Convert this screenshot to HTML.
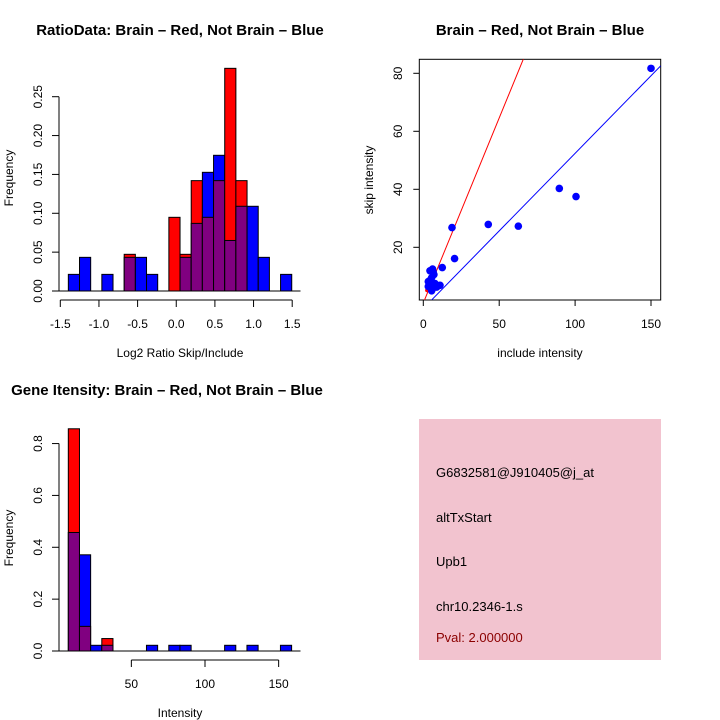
<!DOCTYPE html>
<html><head><meta charset="utf-8"><style>
body{margin:0;background:#fff;}
svg{display:block;font-family:"Liberation Sans",sans-serif;}
</style></head><body>
<svg id="c" width="720" height="720" viewBox="0 0 720 720">
<g id="p1"></g>
<g id="p2"></g>
<g id="p3"></g>
<g id="p4">
<rect x="419" y="419" width="242" height="241" fill="#f2c3cf"/>
<text x="436" y="477" font-size="13">G6832581@J910405@j_at</text>
<text x="436" y="522" font-size="13">altTxStart</text>
<text x="436" y="566" font-size="13">Upb1</text>
<text x="436" y="611" font-size="13">chr10.2346-1.s</text>
<text x="436" y="642" font-size="13" fill="#8b0000">Pval: 2.000000</text>
</g>
</svg>
<script>
// Histogram 1 data (Log2 ratio)
const h1BinStart = -1.396;
const h1BinWidth = 0.1445;
const h1Blue = [0.0214,0.0433,0,0.0214,0,0.0433,0.0433,0.0214,0,0,0.0433,0.087,0.1527,0.1746,0.065,0.109,0.109,0.0433,0,0.0214];
const h1Red  = [0,0,0,0,0,0.0472,0,0,0,0.0948,0.0472,0.142,0.0948,0.142,0.2865,0.142,0,0,0,0];
const h1XTicks = [-1.5,-1.0,-0.5,0.0,0.5,1.0,1.5];
const h1XTickLabels = ["-1.5","-1.0","-0.5","0.0","0.5","1.0","1.5"];
const h1YTicks = [0,0.05,0.10,0.15,0.20,0.25];
const h1YTickLabels = ["0.00","0.05","0.10","0.15","0.20","0.25"];
// Scatter data
const scX = [150,89.6,100.6,42.8,62.6,18.9,20.6,12.5,11,4.4,6.1,3.3,4.4,5.5,7.7,7,8.8,3.3,4.8,5.5,6.5];
const scY = [81.7,40.3,37.5,27.9,27.3,26.8,16.1,13,6.9,11.9,12.5,8.2,6.7,5,7.5,10.6,6.3,6.5,8.8,9.5,11.5];
const scRedX = [2.5,4,5.5,7];
const scRedY = [5.2,5.5,5.2,5.4];
const redLine = [0.8,1.276];   // intercept, slope
const blueLine = [-1.1,0.535];
const scXTicks = [0,50,100,150];
const scYTicks = [20,40,60,80];
// Histogram 2 data (intensity)
const h2BinStart = 7.2;
const h2BinWidth = 7.58;
const h2Blue = [0.457,0.371,0.022,0.022,0,0,0,0.022,0,0.022,0.022,0,0,0,0.022,0,0.022,0,0,0.022];
const h2Red  = [0.857,0.095,0,0.048,0,0,0,0,0,0,0,0,0,0,0,0,0,0,0,0];
const h2XTicks = [50,100,150];
const h2YTicks = [0,0.2,0.4,0.6,0.8];
const h2YTickLabels = ["0.0","0.2","0.4","0.6","0.8"];

const NS="http://www.w3.org/2000/svg";
function mk(parent,tag,attrs,txt){const e=document.createElementNS(NS,tag);for(const k in attrs)e.setAttribute(k,attrs[k]);if(txt!==undefined)e.textContent=txt;parent.appendChild(e);return e;}

function drawHist(g,o){
  const sx=v=>o.x0px+(v-o.x0v)*o.kx, sy=v=>o.y0px-v*o.ky;
  for(let i=0;i<o.blue.length;i++){
    const b=o.blue[i], r=o.red[i];
    const xa=sx(o.binStart+i*o.binWidth), xb=sx(o.binStart+(i+1)*o.binWidth);
    const hi=Math.max(b,r), lo=Math.min(b,r);
    if(hi>0){
      const e=mk(g,'rect',{x:xa,y:sy(hi),width:xb-xa,height:sy(0)-sy(hi),fill:b>=r?'#0000ff':'#ff0000',stroke:'#000','stroke-width':1});
      
      
    }
    if(lo>0){
      const e=mk(g,'rect',{x:xa,y:sy(lo),width:xb-xa,height:sy(0)-sy(lo),fill:'#800080',stroke:'#000','stroke-width':1});
      
      
    }
  }
  const base=mk(g,'line',{x1:59,x2:300.5,y1:o.y0px,y2:o.y0px,stroke:'#000'});
  
  
  const ya=mk(g,'line',{x1:59,x2:59,y1:sy(o.yTicks[0]),y2:sy(o.yTicks[o.yTicks.length-1]),stroke:'#000'});
  
  
  o.yTicks.forEach((v,i)=>{
    mk(g,'line',{x1:52,x2:59,y1:sy(v),y2:sy(v),stroke:'#000'});
    const t=mk(g,'text',{x:42,y:sy(v),'font-size':12,'text-anchor':'middle',transform:`rotate(-90 42 ${sy(v)})`},o.yLabels[i]);
    
    
  });
  const ay=o.y0px+9;
  const xa=mk(g,'line',{x1:sx(o.xTicks[0]),x2:sx(o.xTicks[o.xTicks.length-1]),y1:ay,y2:ay,stroke:'#000'});
  
  
  o.xTicks.forEach((v,i)=>{
    mk(g,'line',{x1:sx(v),x2:sx(v),y1:ay,y2:ay+7,stroke:'#000'});
    const t=mk(g,'text',{x:sx(v),y:ay+28,'font-size':12,'text-anchor':'middle'},o.xLabels[i]);
    
    
  });
  const ti=mk(g,'text',{x:o.titleX,y:o.titleY,'font-size':15,'font-weight':'bold','text-anchor':'middle'},o.title);
  
  
  const xl=mk(g,'text',{x:o.xlabX,y:o.xlabY,'font-size':12,'text-anchor':'middle'},o.xlab);
  
  
  const yc=o.y0px-113;
  const yl=mk(g,'text',{x:13,y:yc,'font-size':12,'text-anchor':'middle',transform:`rotate(-90 13 ${yc})`},'Frequency');
  
  
}

drawHist(document.getElementById('p1'),{x0px:60.3,x0v:-1.5,kx:77.3,y0px:291,ky:777.2,
  binStart:h1BinStart,binWidth:h1BinWidth,blue:h1Blue,red:h1Red,
  xTicks:h1XTicks,xLabels:h1XTickLabels,yTicks:h1YTicks,yLabels:h1YTickLabels,
  title:'RatioData: Brain \u2013 Red, Not Brain \u2013 Blue',titleX:180,titleY:35,
  xlab:'Log2 Ratio Skip/Include',xlabX:180,xlabY:357});
drawHist(document.getElementById('p3'),{x0px:57.7,x0v:0,kx:1.473,y0px:651,ky:259.3,
  binStart:h2BinStart,binWidth:h2BinWidth,blue:h2Blue,red:h2Red,
  xTicks:h2XTicks,xLabels:h2XTicks.map(String),yTicks:h2YTicks,yLabels:h2YTickLabels,
  title:'Gene Itensity: Brain \u2013 Red, Not Brain \u2013 Blue',titleX:167,titleY:395,
  xlab:'Intensity',xlabX:180,xlabY:717});

(function(){
  const g=document.getElementById('p2');
  const L=419.3,R=660.7,T=59.3,B=300;
  const sx=v=>423.3+v*1.518, sy=v=>305.3-v*2.9;
  const ivx=px=>(px-423.3)/1.518;
  mk(g,'defs',{}).innerHTML='<clipPath id="cl"><rect x="'+L+'" y="'+T+'" width="'+(R-L)+'" height="'+(B-T)+'"/></clipPath>';
  const box=mk(g,'rect',{x:L,y:T,width:R-L,height:B-T,fill:'none',stroke:'#000'});
  
  
  const lg=mk(g,'g',{'clip-path':'url(#cl)'});
  [[redLine,'#ff0000','red-fit-line'],[blueLine,'#0000ff','blue-fit-line']].forEach(([ln,c,n])=>{
    const xa=ivx(L), xb=ivx(R);
    const e=mk(lg,'line',{x1:sx(xa),y1:sy(ln[0]+ln[1]*xa),x2:sx(xb),y2:sy(ln[0]+ln[1]*xb),stroke:c,'stroke-width':1});
    
    
  });
  scRedX.forEach((x,i)=>{
    const e=mk(lg,'circle',{cx:sx(x),cy:sy(scRedY[i]),r:2,fill:'#ff0000'});
    
    
  });
  scX.forEach((x,i)=>{
    const e=mk(lg,'circle',{cx:sx(x),cy:sy(scY[i]),r:3.8,fill:'#0000ff'});
    
    
  });
  scXTicks.forEach(v=>{
    mk(g,'line',{x1:sx(v),x2:sx(v),y1:B,y2:B+6,stroke:'#000'});
    const t=mk(g,'text',{x:sx(v),y:B+28,'font-size':12,'text-anchor':'middle'},String(v));
    
    
  });
  scYTicks.forEach(v=>{
    mk(g,'line',{x1:L-6,x2:L,y1:sy(v),y2:sy(v),stroke:'#000'});
    const t=mk(g,'text',{x:402,y:sy(v),'font-size':12,'text-anchor':'middle',transform:`rotate(-90 402 ${sy(v)})`},String(v));
    
    
  });
  const ti=mk(g,'text',{x:540,y:35,'font-size':15,'font-weight':'bold','text-anchor':'middle'},'Brain \u2013 Red, Not Brain \u2013 Blue');
  
  
  const xl=mk(g,'text',{x:540,y:357,'font-size':12,'text-anchor':'middle'},'include intensity');
  
  
  const yl=mk(g,'text',{x:373,y:180,'font-size':12,'text-anchor':'middle',transform:'rotate(-90 373 180)'},'skip intensity');
  
  
})();
</script>
</body></html>
